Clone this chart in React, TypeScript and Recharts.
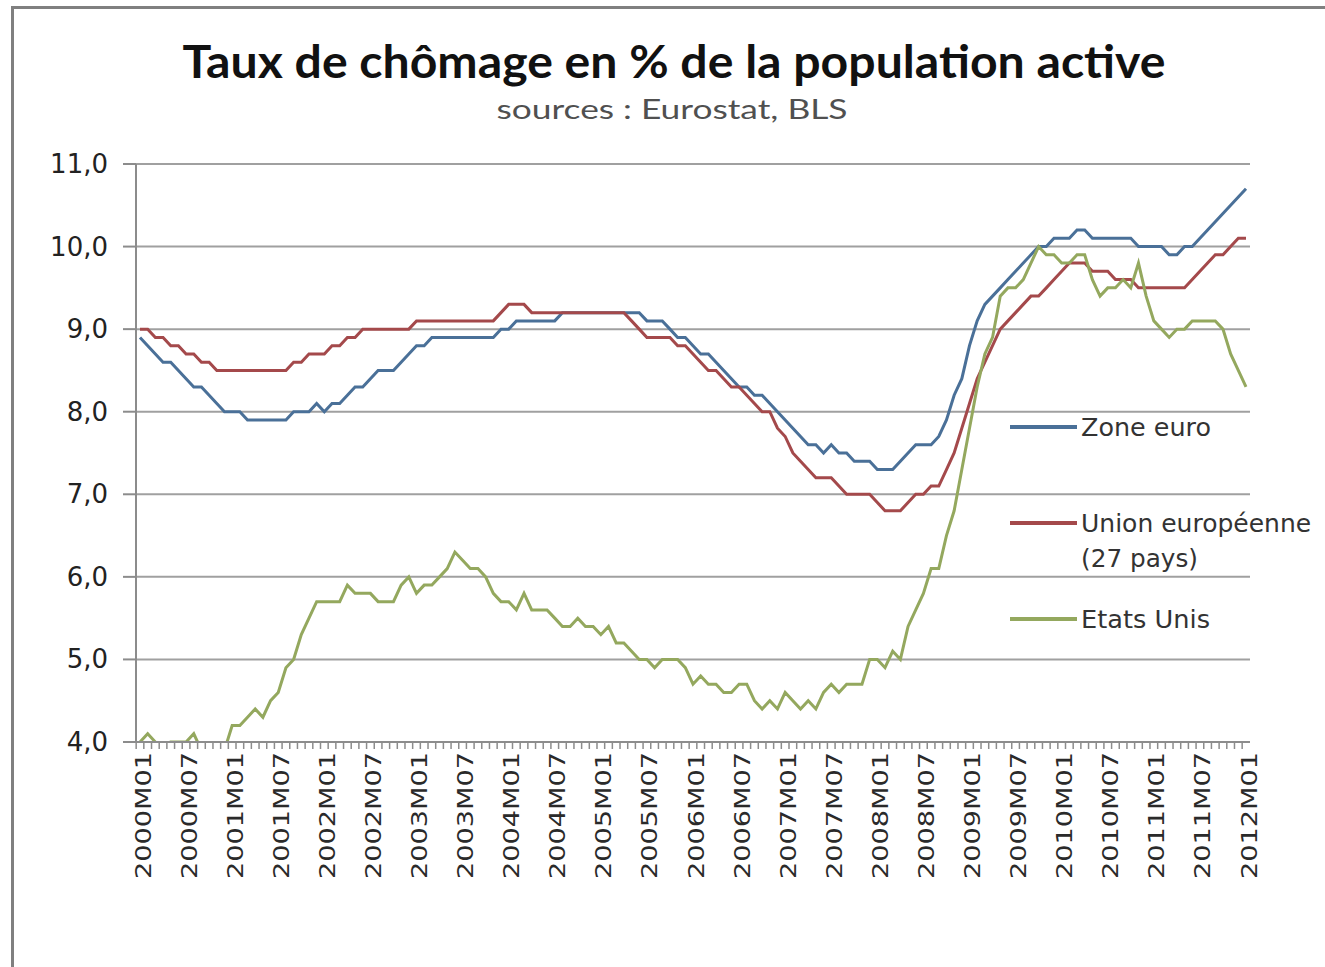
import React from "react";
import { LineChart, Line, XAxis, YAxis, CartesianGrid, Legend } from "recharts";

// catégories mensuelles 2000M01 .. 2012M01
const years = [2000, 2001, 2002, 2003, 2004, 2005, 2006, 2007, 2008, 2009, 2010, 2011, 2012];
const months: string[] = [];
years.forEach((y) => {
  for (let m = 1; m <= 12; m++) {
    if (y === 2012 && m > 1) break;
    months.push(`${y}M${String(m).padStart(2, "0")}`);
  }
});

const zoneEuro = [
  8.9, 8.8, 8.7, 8.6, 8.6, 8.5, 8.4, 8.3, 8.3, 8.2, 8.1, 8.0,
  8.0, 8.0, 7.9, 7.9, 7.9, 7.9, 7.9, 7.9, 8.0, 8.0, 8.0, 8.1,
  8.0, 8.1, 8.1, 8.2, 8.3, 8.3, 8.4, 8.5, 8.5, 8.5, 8.6, 8.7,
  8.8, 8.8, 8.9, 8.9, 8.9, 8.9, 8.9, 8.9, 8.9, 8.9, 8.9, 9.0,
  9.0, 9.1, 9.1, 9.1, 9.1, 9.1, 9.1, 9.2, 9.2, 9.2, 9.2, 9.2,
  9.2, 9.2, 9.2, 9.2, 9.2, 9.2, 9.1, 9.1, 9.1, 9.0, 8.9, 8.9,
  8.8, 8.7, 8.7, 8.6, 8.5, 8.4, 8.3, 8.3, 8.2, 8.2, 8.1, 8.0,
  7.9, 7.8, 7.7, 7.6, 7.6, 7.5, 7.6, 7.5, 7.5, 7.4, 7.4, 7.4,
  7.3, 7.3, 7.3, 7.4, 7.5, 7.6, 7.6, 7.6, 7.7, 7.9, 8.2, 8.4,
  8.8, 9.1, 9.3, 9.4, 9.5, 9.6, 9.7, 9.8, 9.9, 10.0, 10.0, 10.1,
  10.1, 10.1, 10.2, 10.2, 10.1, 10.1, 10.1, 10.1, 10.1, 10.1, 10.0, 10.0,
  10.0, 10.0, 9.9, 9.9, 10.0, 10.0, 10.1, 10.2, 10.3, 10.4, 10.5, 10.6,
  10.7,
];

const unionEuropeenne = [
  9.0, 9.0, 8.9, 8.9, 8.8, 8.8, 8.7, 8.7, 8.6, 8.6, 8.5, 8.5,
  8.5, 8.5, 8.5, 8.5, 8.5, 8.5, 8.5, 8.5, 8.6, 8.6, 8.7, 8.7,
  8.7, 8.8, 8.8, 8.9, 8.9, 9.0, 9.0, 9.0, 9.0, 9.0, 9.0, 9.0,
  9.1, 9.1, 9.1, 9.1, 9.1, 9.1, 9.1, 9.1, 9.1, 9.1, 9.1, 9.2,
  9.3, 9.3, 9.3, 9.2, 9.2, 9.2, 9.2, 9.2, 9.2, 9.2, 9.2, 9.2,
  9.2, 9.2, 9.2, 9.2, 9.1, 9.0, 8.9, 8.9, 8.9, 8.9, 8.8, 8.8,
  8.7, 8.6, 8.5, 8.5, 8.4, 8.3, 8.3, 8.2, 8.1, 8.0, 8.0, 7.8,
  7.7, 7.5, 7.4, 7.3, 7.2, 7.2, 7.2, 7.1, 7.0, 7.0, 7.0, 7.0,
  6.9, 6.8, 6.8, 6.8, 6.9, 7.0, 7.0, 7.1, 7.1, 7.3, 7.5, 7.8,
  8.1, 8.4, 8.6, 8.8, 9.0, 9.1, 9.2, 9.3, 9.4, 9.4, 9.5, 9.6,
  9.7, 9.8, 9.8, 9.8, 9.7, 9.7, 9.7, 9.6, 9.6, 9.6, 9.5, 9.5,
  9.5, 9.5, 9.5, 9.5, 9.5, 9.6, 9.7, 9.8, 9.9, 9.9, 10.0, 10.1,
  10.1,
];

const etatsUnis = [
  4.0, 4.1, 4.0, 3.8, 4.0, 4.0, 4.0, 4.1, 3.9, 3.9, 3.9, 3.9,
  4.2, 4.2, 4.3, 4.4, 4.3, 4.5, 4.6, 4.9, 5.0, 5.3, 5.5, 5.7,
  5.7, 5.7, 5.7, 5.9, 5.8, 5.8, 5.8, 5.7, 5.7, 5.7, 5.9, 6.0,
  5.8, 5.9, 5.9, 6.0, 6.1, 6.3, 6.2, 6.1, 6.1, 6.0, 5.8, 5.7,
  5.7, 5.6, 5.8, 5.6, 5.6, 5.6, 5.5, 5.4, 5.4, 5.5, 5.4, 5.4,
  5.3, 5.4, 5.2, 5.2, 5.1, 5.0, 5.0, 4.9, 5.0, 5.0, 5.0, 4.9,
  4.7, 4.8, 4.7, 4.7, 4.6, 4.6, 4.7, 4.7, 4.5, 4.4, 4.5, 4.4,
  4.6, 4.5, 4.4, 4.5, 4.4, 4.6, 4.7, 4.6, 4.7, 4.7, 4.7, 5.0,
  5.0, 4.9, 5.1, 5.0, 5.4, 5.6, 5.8, 6.1, 6.1, 6.5, 6.8, 7.3,
  7.8, 8.3, 8.7, 8.9, 9.4, 9.5, 9.5, 9.6, 9.8, 10.0, 9.9, 9.9,
  9.8, 9.8, 9.9, 9.9, 9.6, 9.4, 9.5, 9.5, 9.6, 9.5, 9.8, 9.4,
  9.1, 9.0, 8.9, 9.0, 9.0, 9.1, 9.1, 9.1, 9.1, 9.0, 8.7, 8.5,
  8.3,
];

const yTicks = [4, 5, 6, 7, 8, 9, 10, 11];
const seriesNames = ["Zone euro", "Union européenne (27 pays)", "Etats Unis"];

const data = months.map((month, i) => ({
  month,
  zone: zoneEuro[i],
  ue: unionEuropeenne[i],
  us: etatsUnis[i],
}));

const W = 1325;
const H = 967;
const PLOT_W = 1114;
const STEP = PLOT_W / months.length;
const AXIS = "#8c8c8c";
const fmt = (v: number) => v.toFixed(1).replace(".", ",");

function YTick(props: any) {
  const { x, y, payload } = props;
  return (
    <text x={x} y={y} textAnchor="end" dominantBaseline="central"
      fontFamily="DejaVu Sans" fontSize={26} fill="#222">
      {fmt(payload.value)}
    </text>
  );
}

function MonthTick(props: any) {
  const { x, y, payload, index } = props;
  const bx = x - STEP / 2;
  return (
    <g>
      <line x1={bx} x2={bx} y1={y} y2={y + 7} stroke={AXIS} strokeWidth={1.5} />
      {index % 6 === 0 && (
        <text x={x + 3} y={y + 10} transform={`rotate(-90 ${x + 3} ${y + 10})`}
          textAnchor="end" dominantBaseline="central" fontFamily="DejaVu Sans"
          fontSize={22} fill="#2a2a2a" textLength={127} lengthAdjust="spacingAndGlyphs">
          {payload.value}
        </text>
      )}
    </g>
  );
}

const legendRows = [27, 123, 219];
const legendLen: Record<string, number> = { "Zone euro": 130, "Etats Unis": 129, "(27 pays)": 117 };

function LegendBox(props: any) {
  const items = props.payload || [];
  return (
    <svg width={330} height={240} style={{ overflow: "visible" }}>
      {items.map((p: any) => {
        const y = legendRows[Math.max(0, seriesNames.indexOf(String(p.value)))];
        const parts = String(p.value).split(" (");
        const lines = parts.length > 1 ? [parts[0], "(" + parts[1]] : parts;
        return (
          <g key={String(p.value)}>
            <line x1={5} x2={72} y1={y} y2={y} stroke={p.color} strokeWidth={4} />
            {lines.map((t, j) => (
              <text key={j} x={76} y={y + j * 35} dominantBaseline="central"
                fontFamily="DejaVu Sans" fontSize={25} fill="#333"
                textLength={legendLen[t]} lengthAdjust={legendLen[t] ? "spacingAndGlyphs" : undefined}>
                {t}
              </text>
            ))}
          </g>
        );
      })}
    </svg>
  );
}

export default function App() {
  return (
    <div style={{ position: "absolute", left: 0, top: 0, width: W, height: H, overflow: "hidden", background: "#fff" }}>
      <div style={{ position: "absolute", left: 11, top: 6, width: 1400, height: 1000, border: "3px solid #808080" }} />
      <svg width={W} height={140} style={{ position: "absolute", left: 0, top: 0 }}>
        <text x={674} y={78} textAnchor="middle" fontFamily="Lato" fontWeight={700} fontSize={46}
          fill="#111" textLength={983} lengthAdjust="spacingAndGlyphs">
          Taux de chômage en % de la population active
        </text>
        <text x={672} y={119} textAnchor="middle" fontFamily="Lato" fontSize={27}
          fill="#505050" textLength={351} lengthAdjust="spacingAndGlyphs">
          sources : Eurostat, BLS
        </text>
      </svg>
      <div style={{ position: "absolute", left: 0, top: 0 }}>
        <LineChart width={W} height={H} data={data}
          margin={{ top: 164, right: 75, bottom: 85, left: 46 }}>
          <CartesianGrid vertical={false} stroke="#a0a0a0" strokeWidth={2} />
          <XAxis dataKey="month" interval={0} tickLine={false} tickSize={0} tickMargin={0}
            height={140} padding={{ left: 4, right: 4 }}
            axisLine={{ stroke: AXIS, strokeWidth: 2 }} tick={<MonthTick />} />
          <YAxis type="number" domain={[4, 11]} ticks={yTicks} allowDataOverflow width={90}
            tickSize={13} tickMargin={15} tickLine={{ stroke: AXIS, strokeWidth: 2 }}
            axisLine={{ stroke: AXIS, strokeWidth: 2 }} tick={<YTick />} />
          <Legend layout="vertical" align="center" verticalAlign="middle"
            wrapperStyle={{ left: 1005, top: 400, width: 330, height: 240 }}
            content={<LegendBox />} />
          <Line type="linear" dataKey="zone" name={seriesNames[0]} stroke="#4A7098" strokeWidth={3}
            dot={false} isAnimationActive={false} />
          <Line type="linear" dataKey="ue" name={seriesNames[1]} stroke="#A4494B"
            strokeWidth={3} dot={false} isAnimationActive={false} />
          <Line type="linear" dataKey="us" name={seriesNames[2]} stroke="#94A85E" strokeWidth={3}
            dot={false} isAnimationActive={false} />
        </LineChart>
      </div>
    </div>
  );
}
